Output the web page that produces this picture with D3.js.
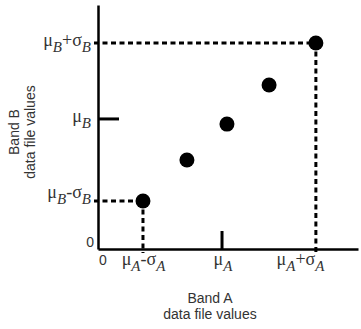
<!DOCTYPE html>
<html>
<head>
<meta charset="utf-8">
<script src="https://cdn.jsdelivr.net/npm/d3@7"></script>
<style>
  body { margin: 0; background: #fff; }
  svg { display: block; }
</style>
</head>
<body>
<div class="chart"></div>
<script>
// scatter of band A / band B values (arbitrary units, 0..100)
let bandA = [17.3, 34.2, 49.6, 65.8, 83.8];
let bandB = [19.7, 36.5, 51.2, 67.2, 84.4];

// mean and mean +/- sd for each band
let meanA = 47.7, sdA = 30.2;
let meanB = 53.3, sdB = 31.1;

let xTickLabels = [["μ", "A", "-", "σ", "A"], ["μ", "A"], ["μ", "A", "+", "σ", "A"]];
let yTickLabels = [["μ", "B", "-", "σ", "B"], ["μ", "B"], ["μ", "B", "+", "σ", "B"]];
let xTitle = ["Band A", "data file values"];
let yTitle = ["Band B", "data file values"];

let width = 361, height = 329;
let mLeft = 98, mRight = 358, mTop = 5, mBottom = 249;
let serif = '"Liberation Serif", "DejaVu Serif", serif';
let sans = '"Liberation Sans", Arial, sans-serif';

let svg = d3.select('div.chart').append('svg')
  .attr('width', width)
  .attr('height', height);

let x = d3.scaleLinear().domain([0, 100]).range([mLeft, mRight]);
let y = d3.scaleLinear().domain([0, 100]).range([mBottom, mTop]);

let pts = bandA.map((a, i) => ({ a: a, b: bandB[i] }));
let lo = pts[0], hi = pts[pts.length - 1];

// dashed guides from the axes to the extreme points
let guides = [
  [x(0) - 4, y(lo.b), x(lo.a), y(lo.b)],
  [x(lo.a), y(lo.b), x(lo.a), y(0) + 4],
  [x(0) - 4, y(hi.b), x(hi.a), y(hi.b)],
  [x(hi.a), y(hi.b), x(hi.a), y(0) + 4]
];
svg.selectAll('line.guide')
  .data(guides).enter()
  .append('line')
  .attr('class', 'guide')
  .attr('x1', d => d[0]).attr('y1', d => d[1])
  .attr('x2', d => d[2]).attr('y2', d => d[3])
  .attr('stroke', '#000')
  .attr('stroke-width', 3)
  .attr('stroke-dasharray', '5,3.5');

// axes (domain lines only)
svg.append('g')
  .attr('transform', 'translate(0,' + mBottom + ')')
  .call(d3.axisBottom(x).tickValues([]).tickSizeOuter(0))
  .select('.domain').attr('stroke', '#000').attr('stroke-width', 2.5);
svg.append('g')
  .attr('transform', 'translate(' + mLeft + ',0)')
  .call(d3.axisLeft(y).tickValues([]).tickSizeOuter(0))
  .select('.domain').attr('stroke', '#000').attr('stroke-width', 2.5);

// mean ticks
svg.append('line')
  .attr('x1', x(meanA)).attr('x2', x(meanA))
  .attr('y1', y(0)).attr('y2', y(0) - 18)
  .attr('stroke', '#000').attr('stroke-width', 3);
svg.append('line')
  .attr('x1', x(0)).attr('x2', x(0) + 21)
  .attr('y1', y(meanB)).attr('y2', y(meanB))
  .attr('stroke', '#000').attr('stroke-width', 3);

// points
svg.selectAll('circle')
  .data(pts).enter()
  .append('circle')
  .attr('cx', d => x(d.a))
  .attr('cy', d => y(d.b))
  .attr('r', 7.5)
  .attr('fill', '#000');

// mu / sigma labels, subscripts dropped by 6px
function greekLabel(sel, parts) {
  sel.attr('font-family', serif).attr('font-size', 18).attr('fill', '#333');
  parts.forEach((p, i) => {
    let t = sel.append('tspan').text(p);
    if (i % 3 == 1) t.attr('font-style', 'italic').attr('font-size', 15).attr('dy', 6);
    else if (i % 3 == 2) t.attr('dy', -6);
  });
}

let xTicks = [meanA - sdA, meanA, meanA + sdA];
xTicks.forEach((v, i) => {
  let t = svg.append('text')
    .attr('x', x(v) + (i == 1 ? 1 : 0))
    .attr('y', 265)
    .attr('text-anchor', 'middle');
  greekLabel(t, xTickLabels[i]);
});

let yTicks = [meanB - sdB, meanB, meanB + sdB];
yTicks.forEach((v, i) => {
  let t = svg.append('text')
    .attr('x', 91)
    .attr('y', y(v) + 3)
    .attr('text-anchor', 'end');
  greekLabel(t, yTickLabels[i]);
});

// zeros
svg.append('text').attr('font-family', sans).attr('font-size', 14).attr('fill', '#333')
  .attr('x', 94).attr('y', 247).attr('text-anchor', 'end').text('0');
svg.append('text').attr('font-family', sans).attr('font-size', 14).attr('fill', '#333')
  .attr('x', 103).attr('y', 265).attr('text-anchor', 'middle').text('0');

// axis titles
xTitle.forEach((s, i) => {
  svg.append('text').attr('font-family', sans).attr('font-size', 14).attr('fill', '#333')
    .attr('x', 210).attr('y', 303 + i * 16)
    .attr('text-anchor', 'middle').text(s);
});
yTitle.forEach((s, i) => {
  svg.append('text').attr('font-family', sans).attr('font-size', 14).attr('fill', '#333')
    .attr('transform', 'translate(' + (19 + i * 16) + ',132) rotate(-90)')
    .attr('text-anchor', 'middle').text(s);
});
</script>
</body>
</html>
